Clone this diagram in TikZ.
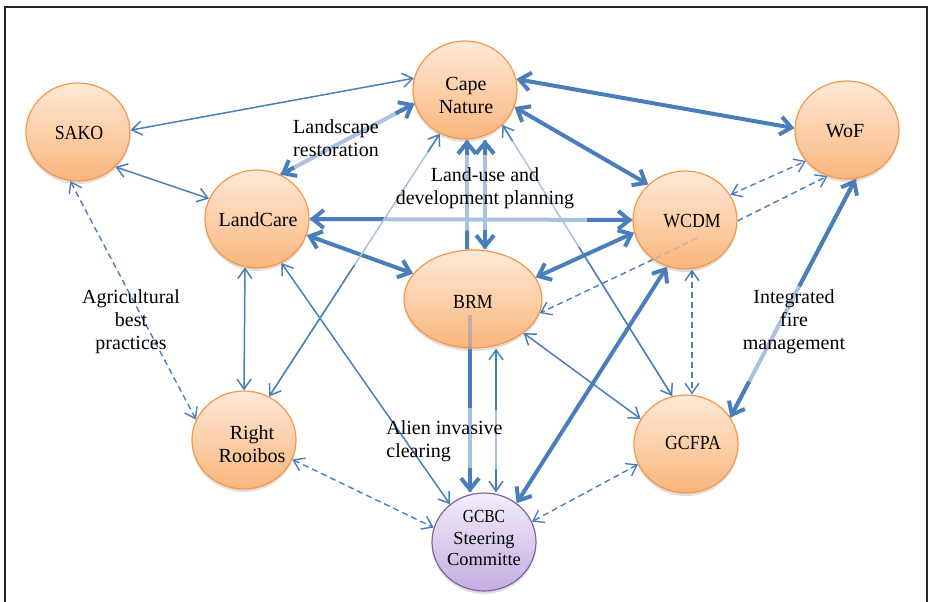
\documentclass[tikz,border=0pt]{standalone}
\usepackage{graphicx}
\usepackage{fontspec}
\setmainfont{Liberation Serif}
\usetikzlibrary{arrows.meta,shapes.geometric,shadows,calc}
\pgfdeclarelayer{bg}
\pgfsetlayers{bg,main}
\definecolor{dblue}{RGB}{74,126,187}
\definecolor{lblue}{RGB}{170,194,224}
\definecolor{oborder}{RGB}{247,150,70}
\definecolor{otop}{RGB}{254,233,216}
\definecolor{obot}{RGB}{250,182,124}
\definecolor{pborder}{RGB}{128,100,162}
\definecolor{ptop}{RGB}{243,238,249}
\definecolor{pbot}{RGB}{196,172,225}
\newcommand{\cw}[1]{\scalebox{0.89}[1]{#1}}
\newcommand{\cwb}[1]{\scalebox{0.84}[1]{#1}}
\begin{document}
\begin{tikzpicture}[x=0.5pt,y=-0.5pt,
  ent/.style={ellipse, draw=oborder, line width=0.6pt, top color=otop, bottom color=obot,
    minimum width=52pt, minimum height=49pt, inner sep=0pt,
    drop shadow={shadow xshift=0pt, shadow yshift=-1.5pt, opacity=0.25}},
  entp/.style={ent, draw=pborder, top color=ptop, bottom color=pbot},
  txt/.style={font=\fontsize{10}{11.5}\selectfont, align=center, inner sep=0pt},
  lbl/.style={font=\fontsize{10}{11.5}\selectfont, align=center, inner sep=0pt},
  lnthin/.style={draw=dblue, line width=0.75pt, >={Straight Barb[length=5pt,width=7pt]}},
  lnthinlight/.style={draw=lblue, line width=0.75pt},
  lnthick/.style={draw=dblue, line width=2pt, >={Straight Barb[length=5.5pt,width=9pt]}},
  lnlight/.style={draw=lblue, line width=2pt},
  lndash/.style={draw=dblue, line width=0.7pt, dash pattern=on 3pt off 2pt, >={Straight Barb[length=5pt,width=7pt]}},
]
\useasboundingbox (0,0) rectangle (928,601);
\draw[line width=1pt, black!85] (5,620) -- (5,7) -- (927,7) -- (927,620);

% nodes
\node[ent] (sako) at (78,132) {};
\node[ent] (cn) at (465,90) {};
\node[ent] (wof) at (847,130) {};
\node[ent] (lc) at (257,219) {};
\node[ent] (wcdm) at (685,220) {};
\node[ent, minimum width=69pt] (brm) at (473,299) {};
\node[ent] (rr) at (244,440) {};
\node[ent] (gcfpa) at (686,444) {};
\node[entp] (gcbc) at (484,542) {};

% texts
\node[txt] (sakot) at (79,133) {\cw{SAKO}};
\node[txt] (cnt) at (466,95) {Cape\\Nature};
\node[txt] (woft) at (845,131) {WoF};
\node[txt] (lct) at (258,220) {LandCare};
\node[txt] (wcdmt) at (692,221) {\cw{WCDM}};
\node[txt] (brmt) at (473,302) {\cw{BRM}};
\node[txt] (rrt) at (252,444) {Right\\Rooibos};
\node[txt] (gcfpat) at (693,443) {\cw{GCFPA}};
\node[txt, font=\fontsize{9.2}{10.8}\selectfont] (gcbct) at (484,538) {\cwb{GCBC}\\Steering\\Committe};

% labels
\node[lbl] (l1) at (336,138) {Landscape\\restoration};
\node[lbl] (l2) at (485,188) {Land-use and\\development planning};
\node[lbl] (l3) at (131,322) {Agricultural\\best\\practices};
\node[lbl, align=left, anchor=west] (l4) at (386,441) {Alien invasive\\clearing};
\node[lbl] (l5) at (794,322) {Integrated\\fire\\management};

\begin{pgfonlayer}{bg}
% SAKO
\draw[lnthin,<->] (sako.2) -- (cn.167);
\draw[lnthin,<->] (sako.317) -- (lc.157);
\draw[lndash,<->] (sako.261) -- (rr.157);
% LandCare - Cape Nature (gradient)
\draw[lnlight] (lc.62) -- (cn.195);
\draw[lnthick,->] ($(lc.62)!0.86!(cn.195)$) -- (cn.195);
\draw[lnthick,->] ($(lc.62)!0.1!(cn.195)$) -- (lc.62);
% LandCare - WCDM (gradient)
\draw[lnlight] (lc.east) -- (wcdm.west);
\draw[lnthick,->] ($(lc.east)!0.23!(wcdm.west)$) -- (lc.east);
\draw[lnthick,->] ($(lc.east)!0.86!(wcdm.west)$) -- (wcdm.west);
% LandCare - BRM
\draw[lnthick,<->] (lc.342) -- (brm.157);
% LandCare - Right Rooibos
\draw[lnthin,<->] (lc.256) -- (rr.north);
% LandCare - GCBC
\draw[lnthin,<->] (lc.299) -- (gcbc.132);
% Right Rooibos - Cape Nature (gradient)
\draw[lnthinlight] (rr.60) -- (cn.240);
\draw[lnthin,->] ($(rr.60)!0.5!(cn.240)$) -- (rr.60);
\draw[lnthin,->] ($(rr.60)!0.93!(cn.240)$) -- (cn.240);
% BRM -> Cape Nature (left vertical)
\draw[lnlight] ($(brm.north)+(-6,0)$) -- ($(cn.south)+(2,0)$);
\draw[lnthick] ($(brm.north)+(-6,0)$) -- ($($(brm.north)+(-6,0)$)!0.17!($(cn.south)+(2,0)$)$);
\draw[lnthick,->] ($($(brm.north)+(-6,0)$)!0.86!($(cn.south)+(2,0)$)$) -- ($(cn.south)+(2,0)$);
% Cape Nature <-> BRM (right vertical)
\draw[lnlight] ($(brm.north)+(12,0)$) -- ($(cn.south)+(20,0)$);
\draw[lnthick,->] ($($(brm.north)+(12,0)$)!0.18!($(cn.south)+(20,0)$)$) -- ($(brm.north)+(12,0)$);
\draw[lnthick,->] ($($(brm.north)+(12,0)$)!0.86!($(cn.south)+(20,0)$)$) -- ($(cn.south)+(20,0)$);
% Cape Nature - WoF, WCDM
\draw[lnthick,<->] (cn.12) -- (wof.178);
\draw[lnthick,<->] (cn.341) -- (wcdm.136);
% Cape Nature - GCFPA (gradient)
\draw[lnthinlight] (cn.317) -- (gcfpa.106);
\draw[lnthin,->] ($(cn.317)!0.45!(gcfpa.106)$) -- (gcfpa.106);
\draw[lnthin,->] ($(cn.317)!0.06!(gcfpa.106)$) -- (cn.317);
% WCDM - WoF dashed
\draw[lndash,<->] (wcdm.29) -- (wof.217);
\draw[lndash,->] (wcdm.359) -- (wof.247);
% WCDM - BRM
\draw[lnthick,<->] (wcdm.194) -- (brm.19);
\draw[lndash,->] (wcdm.231) -- (brm.348);
% WCDM - GCFPA dashed
\draw[lndash,<->] ($(wcdm.south)+(7,0)$) -- ($(gcfpa.north)+(6,0)$);
% WoF - GCFPA (gradient)
\draw[lnlight] (wof.280) -- (gcfpa.31);
\draw[lnthick,->] ($(wof.280)!0.45!(gcfpa.31)$) -- (wof.280);
\draw[lnthick,->] ($(wof.280)!0.85!(gcfpa.31)$) -- (gcfpa.31);
% WCDM - GCBC
\draw[lnthick,<->] (wcdm.249) -- (gcbc.50);
% BRM - GCFPA
\draw[lnthin,<->] (brm.326) -- (gcfpa.151);
% BRM -> GCBC thick (gradient)
\draw[lnlight] ($(brm.south)+(-3,0)$) -- ($(gcbc.north)+(-14,0)$);
\draw[lnthick] ($(brm.south)+(-3,0)$) -- ($($(brm.south)+(-3,0)$)!0.41!($(gcbc.north)+(-14,0)$)$);
\draw[lnthick,->] ($($(brm.south)+(-3,0)$)!0.83!($(gcbc.north)+(-14,0)$)$) -- ($(gcbc.north)+(-14,0)$);
% BRM <-> GCBC thin (gradient)
\draw[lnthinlight] ($(brm.south)+(23,0)$) -- ($(gcbc.north)+(12,0)$);
\draw[lnthin,->] ($($(brm.south)+(23,0)$)!0.43!($(gcbc.north)+(12,0)$)$) -- ($(brm.south)+(23,0)$);
\draw[lnthin,->] ($($(brm.south)+(23,0)$)!0.84!($(gcbc.north)+(12,0)$)$) -- ($(gcbc.north)+(12,0)$);
% GCBC dashed
\draw[lndash,<->] (rr.338) -- (gcbc.164);
\draw[lndash,<->] (gcfpa.203) -- (gcbc.23);
\end{pgfonlayer}

% faint parts seen through the shapes
\draw[dblue, line width=0.7pt, dash pattern=on 3pt off 2pt, opacity=0.25] ($(wcdm)+(12,18)$) -- (wcdm.231);
\draw[dblue, line width=2pt, opacity=0.3] ($(brm)+(-3,16)$) -- ($(brm.south)+(-3,0)$);
\end{tikzpicture}
\end{document}
